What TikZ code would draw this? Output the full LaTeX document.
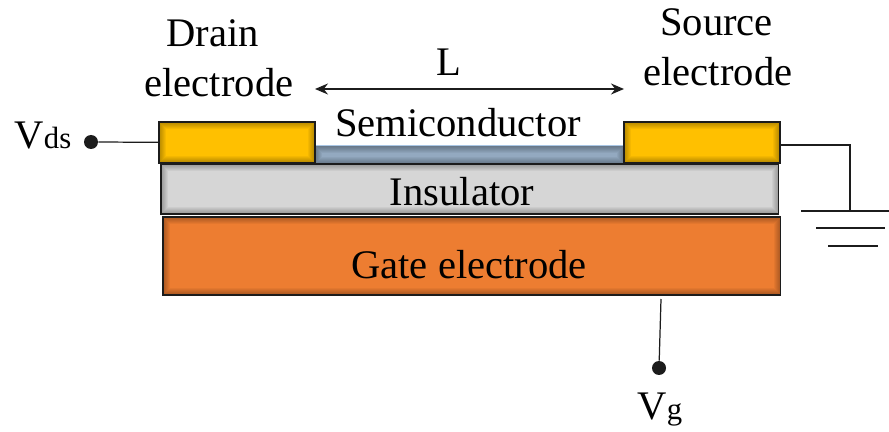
\documentclass[tikz,border=0pt]{standalone}
\usepackage{fontspec}
\setmainfont{Liberation Serif}
\usepackage{xcolor}
\usetikzlibrary{arrows.meta,positioning}
\definecolor{ink}{HTML}{1C1C1C}
\definecolor{contact}{HTML}{FFC000}
\definecolor{oxide}{HTML}{D6D6D6}
\definecolor{gatefill}{HTML}{ED7D31}
\definecolor{channel}{HTML}{93A9C0}
\definecolor{channeledge}{HTML}{A9C6E4}
\tikzset{
  device diagram/.style={
    x=0.02cm,
    y=-0.02cm,
    font=\fontsize{23.1}{28.4}\selectfont,
    >={Stealth[length=2.6mm,width=2.2mm]}
  },
  innerglow/.style={
    path picture={
      \foreach \w in {0.04,0.08,...,0.32}
        \draw[black, opacity=0.045, line width=\w cm]
          (path picture bounding box.south west) rectangle (path picture bounding box.north east);
    }
  },
  layerbox/.style={
    innerglow,
    draw=ink,
    line width=0.9pt,
    anchor=north west,
    inner sep=0pt
  },
  contactbox/.style={
    layerbox,
    fill=contact,
    minimum width=3.12cm,
    minimum height=0.82cm
  },
  channelbox/.style={
    innerglow,
    draw=channeledge,
    line width=0.6pt,
    fill=channel,
    anchor=north west,
    inner sep=0pt,
    minimum width=6.2cm,
    minimum height=0.36cm
  },
  insulatorbox/.style={
    layerbox,
    fill=oxide,
    minimum width=12.36cm,
    minimum height=1cm
  },
  gatebox/.style={
    layerbox,
    fill=gatefill,
    minimum width=12.36cm,
    minimum height=1.56cm
  },
  termdot/.style={
    circle,
    fill=ink,
    inner sep=0pt,
    minimum width=0.28cm
  },
  wire/.style={
    draw=ink,
    line width=0.7pt
  },
  plainlabel/.style={
    align=center,
    inner sep=0pt
  }
}
\newcommand{\subtext}[1]{{\fontsize{17.5}{20}\selectfont #1}}
\begin{document}
\begin{tikzpicture}[device diagram]
\useasboundingbox (0,0) rectangle (889,432);
\node[channelbox] (semi) at (314,145) {};
\node[contactbox] (drain) at (158,121) {};
\node[contactbox] (source) at (623,121) {};
\node[insulatorbox] (ins) at (160,163) {};
\node[gatebox] (gate) at (162,216) {};

\node[plainlabel] at (458,123) (semilabel) {Semiconductor};
\node[plainlabel] at (462,192) (inslabel) {Insulator};
\node[plainlabel] at (469,265) (gatelabel) {Gate electrode};
\node[plainlabel] at (219,58) (drainlabel) {Drain\hspace*{0.26cm}\\electrode};
\node[plainlabel] at (718,47) (sourcelabel) {Source\hspace*{0.06cm}\\electrode};
\node[plainlabel] at (449,62) (len) {L};
\node[plainlabel] at (43,136) (vds) {V\subtext{ds}};
\node[plainlabel] at (660,410) (vg) {V\subtext{g}};

\node[termdot] (vdsdot) at (91,142) {};
\node[termdot] (vgdot) at (659,368) {};
\coordinate (lenleft) at (315,89);
\coordinate (lenright) at (624,89);
\coordinate (srcout) at (779,145);
\coordinate (gnd) at (850,211);
\coordinate (gateout) at (661,299);

\draw[<->, wire] (lenleft) -- (lenright);
\draw[wire] (vdsdot) -- (drain.west);
\draw[wire] (srcout) -| (gnd);
\draw[wire] (gateout) -- (vgdot);
\draw[wire] ([xshift=-0.98cm]gnd) -- ([xshift=0.78cm]gnd);
\draw[wire] ([xshift=-0.68cm,yshift=-0.34cm]gnd) -- ([xshift=0.7cm,yshift=-0.34cm]gnd);
\draw[wire] ([xshift=-0.44cm,yshift=-0.7cm]gnd) -- ([xshift=0.56cm,yshift=-0.7cm]gnd);
\end{tikzpicture}
\end{document}
